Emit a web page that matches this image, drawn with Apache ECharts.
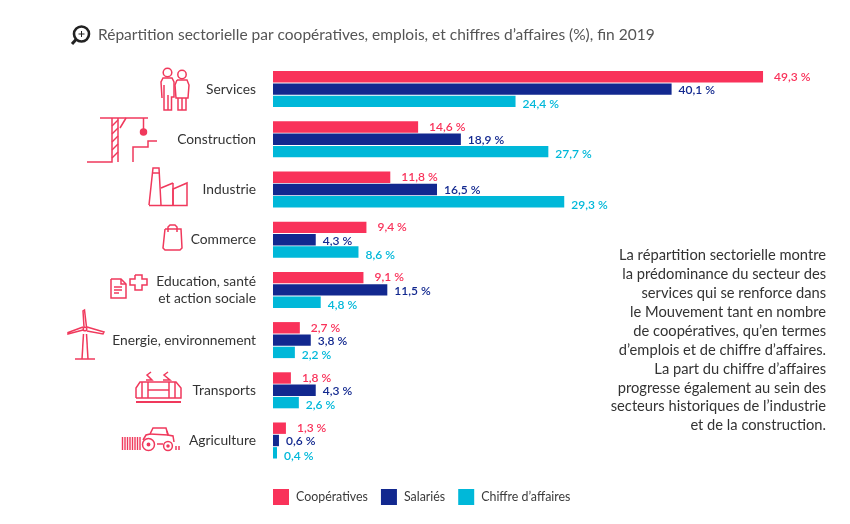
<!DOCTYPE html>
<html>
<head>
<meta charset="utf-8">
<style>
  html, body { margin: 0; padding: 0; background: #fff; }
  #chart { width: 850px; height: 524px; }
</style>
<script src="https://cdn.jsdelivr.net/npm/echarts@6/dist/echarts.min.js"></script>
</head>
<body>
<div id="chart"></div>
<script>
const categories = ['Services', 'Construction', 'Industrie', 'Commerce', 'Education, santé\net action sociale', 'Energie, environnement', 'Transports', 'Agriculture']
const cooperatives = [49.3, 14.6, 11.8, 9.4, 9.1, 2.7, 1.8, 1.3]
const salaries = [40.1, 18.9, 16.5, 4.3, 11.5, 3.8, 4.3, 0.6]
const chiffreAffaires = [24.4, 27.7, 29.3, 8.6, 4.8, 2.2, 2.6, 0.4]
const titleText = 'Répartition sectorielle par coopératives, emplois, et chiffres d’affaires (%), fin 2019'
const noteLines = [
  'La répartition sectorielle montre',
  'la prédominance du secteur des',
  'services qui se renforce dans',
  'le Mouvement tant en nombre',
  'de coopératives, qu’en termes',
  'd’emplois et de chiffre d’affaires.',
  'La part du chiffre d’affaires',
  'progresse également au sein des',
  'secteurs historiques de l’industrie',
  'et de la construction.'
]

const FONT = 'Lato'
const RED = '#f9325a'
const BLUE = '#12288f'
const CYAN = '#00b8d9'
const ICON = '#f0395c'

function fmt(p) {
  return p.value.toFixed(1).replace('.', ',') + ' %'
}

function makeSeries(name, values, color, distance, dy) {
  return {
    name: name,
    type: 'bar',
    data: values,
    barWidth: 11.4,
    barGap: '8%',
    itemStyle: { color: color },
    label: {
      show: true,
      position: 'right',
      distance: distance,
      offset: [0, dy],
      formatter: fmt,
      color: color,
      fontFamily: FONT,
      fontSize: 12,
      fontWeight: 600
    }
  }
}

// icones dessinees a la main
function pl(points, extra) {
  return { type: 'polyline', shape: { points: points }, style: Object.assign({ stroke: ICON, lineWidth: 1.5, fill: 'none' }, extra || {}) }
}
function circ(cx, cy, r, fill) {
  return { type: 'circle', shape: { cx: cx, cy: cy, r: r }, style: { stroke: ICON, lineWidth: 1.5, fill: fill || 'none' } }
}

const icons = [
  // services
  circ(167.5, 72.5, 4.3),
  pl([[162, 98], [161, 82], [163, 78], [172, 78], [174, 82], [174, 97], [171.5, 97], [171.5, 110], [164, 110], [164, 85]]),
  pl([[168, 110], [168, 95]]),
  circ(182, 74.5, 4.2),
  pl([[177, 80], [187, 80], [189, 85], [188, 98], [176, 98], [175, 85], [177, 80]]),
  pl([[178, 98], [178, 110], [186, 110], [186, 98]]),
  pl([[182, 98], [182, 110]]),
  // construction
  pl([[100, 118], [148, 118]]),
  pl([[112, 118], [112, 162], [87, 162]]),
  pl([[118, 118], [118, 162]]),
  pl([[112, 126], [118, 120]]), pl([[112, 134], [118, 128]]), pl([[112, 142], [118, 136]]),
  pl([[112, 150], [118, 144]]), pl([[112, 158], [118, 152]]),
  pl([[120, 128], [125, 120], [126, 118], [120, 128]]),
  pl([[143.5, 118], [143.5, 129]]),
  circ(143.5, 132, 3, ICON),
  pl([[133, 162], [133, 147], [148, 147], [148, 141], [157, 141]]),
  // industrie
  pl([[149, 205], [153, 168], [159, 168], [161, 205]]),
  pl([[152, 173], [160, 173]]),
  pl([[149, 205.5], [187, 205.5], [187, 183], [173, 189], [173, 205.5]]),
  pl([[173, 183], [161, 188]]),
  pl([[173, 183], [173, 205]]),
  // commerce
  pl([[165, 229], [181, 229], [182, 248], [180, 250], [165, 250], [163, 248], [165, 229]]),
  pl([[168, 232], [168, 227], [170, 225], [175, 225], [177, 227], [177, 232]]),
  // education
  pl([[111, 279], [121, 279], [126, 284], [126, 298], [111, 298], [111, 279]]),
  pl([[121, 279], [121, 284], [126, 284]]),
  pl([[114, 287], [122, 287]]), pl([[114, 290], [122, 290]]), pl([[114, 293], [119, 293]]),
  pl([[135, 275], [142, 275], [142, 279], [147, 279], [147, 285], [142, 285], [142, 290], [135, 290], [135, 285], [130, 285], [130, 279], [135, 279], [135, 275]]),
  // energie
  pl([[83.5, 334], [82, 359]]), pl([[86.5, 334], [88, 359]]),
  pl([[75, 359], [95, 359]]),
  circ(85, 329, 1.8),
  pl([[84, 327], [83, 311], [84.5, 310], [86.5, 327]]),
  pl([[83, 330], [68, 334], [68, 332.5], [83, 327]]),
  pl([[87, 327], [104, 332], [103, 334], [87, 331]]),
  // transports
  pl([[136, 398], [136, 388], [140, 382], [176, 382], [181, 388], [181, 398], [136, 398]]),
  pl([[148, 382], [148, 398]]), pl([[169, 382], [169, 398]]),
  pl([[142, 382], [142, 398]]), pl([[175, 382], [175, 398]]),
  pl([[148, 390], [169, 390]]),
  pl([[136, 402], [181, 402]], { lineWidth: 1.8 }),
  pl([[146, 380], [152, 380], [147, 375], [151, 372]]),
  pl([[163, 380], [170, 380], [164, 375], [168, 372]]),
  // agriculture
  pl([[122.5, 437], [122.5, 450]], { lineWidth: 1.4 }), pl([[125, 437], [125, 450]], { lineWidth: 1.4 }),
  pl([[127.5, 437], [127.5, 450]], { lineWidth: 1.4 }), pl([[130, 437], [130, 450]], { lineWidth: 1.4 }),
  pl([[132.5, 437], [132.5, 450]], { lineWidth: 1.4 }), pl([[135, 437], [135, 450]], { lineWidth: 1.4 }),
  pl([[137.5, 437], [137.5, 450]], { lineWidth: 1.4 }), pl([[140, 437], [140, 450]], { lineWidth: 1.4 }),
  circ(148.5, 444.5, 6), circ(148.5, 444.5, 1.2, ICON),
  circ(168, 446, 4.4), circ(168, 446, 1, ICON),
  pl([[157, 444], [163, 444]]),
  pl([[143, 440], [146, 435], [150, 434], [153, 428], [166, 428], [168, 435], [173, 436], [174, 442]]),
  pl([[150, 434], [168, 435]]),
  pl([[168, 435], [167, 431]]),
  pl([[176, 446], [176, 450]]), pl([[179, 446], [179, 450]]),
  // loupe du titre
  { type: 'circle', shape: { cx: 81.5, cy: 34, r: 7.5 }, style: { stroke: '#222', lineWidth: 2.6, fill: 'none' } },
  pl([[76, 39.5], [72, 44]], { stroke: '#222', lineWidth: 3 }),
  pl([[78.5, 34], [84.5, 34]], { stroke: '#222', lineWidth: 1 }),
  pl([[81.5, 31], [81.5, 37]], { stroke: '#222', lineWidth: 1 })
]

const noteTexts = noteLines.map((line, i) => ({
  type: 'text',
  right: 24,
  top: 248 + i * 18.9,
  style: { text: line, fill: '#333', fontFamily: FONT, fontSize: 14.7, textAlign: 'right' }
}))

const chart = echarts.init(document.getElementById('chart'), null, { renderer: 'canvas' })
chart.setOption({
  animation: false,
  backgroundColor: '#fff',
  title: {
    text: titleText,
    left: 93,
    top: 22,
    textStyle: { fontFamily: FONT, fontSize: 15.5, fontWeight: 400, color: '#555' }
  },
  legend: {
    left: 268,
    top: 484,
    itemWidth: 16,
    itemHeight: 16,
    itemGap: 13,
    icon: 'rect',
    data: ['Coopératives', 'Salariés', 'Chiffre d’affaires'],
    textStyle: { fontFamily: FONT, fontSize: 12.4, color: '#3a3a3a', padding: [0, 0, 0, 2] }
  },
  grid: { left: 273, top: 64, width: 497, height: 401.6 },
  xAxis: { type: 'value', min: 0, max: 50, show: false },
  yAxis: {
    type: 'category',
    inverse: true,
    data: categories,
    axisLine: { show: false },
    axisTick: { show: false },
    axisLabel: { margin: 17, fontFamily: FONT, fontSize: 13.8, color: '#333', lineHeight: 17, align: 'right', padding: [3, 0, 0, 0] }
  },
  series: [
    makeSeries('Coopératives', cooperatives, RED, 11, 0),
    makeSeries('Salariés', salaries, BLUE, 7, 1),
    makeSeries('Chiffre d’affaires', chiffreAffaires, CYAN, 7, 3)
  ],
  graphic: { elements: icons.concat(noteTexts) }
})
window.addEventListener('resize', () => chart.resize())
</script>
</body>
</html>
